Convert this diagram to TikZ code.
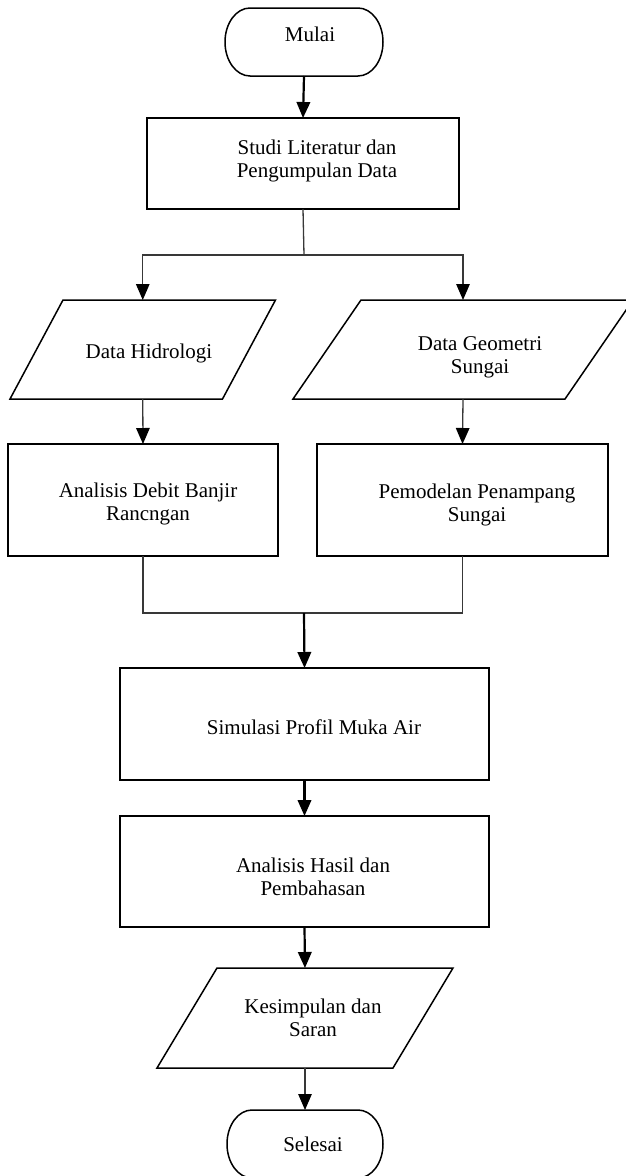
\documentclass[tikz,border=0pt]{standalone}
\usepackage{fontspec}
\setmainfont{Liberation Serif}
\usetikzlibrary{arrows.meta,calc}
\begin{document}
\begin{tikzpicture}[x=1pt,y=-1pt,
  shapeline/.style={draw=black,line width=1.5pt,line join=miter},
  ghost/.style={rectangle,inner sep=0pt,outer sep=0pt,draw=none},
  boxnode/.style={rectangle,inner sep=0pt,outer sep=0pt,draw=black,line width=1.5pt},
  txt/.style={font=\fontsize{21}{23}\selectfont,align=center,inner sep=0pt},
  conn/.style={draw=black!78,line width=1.3pt},
  connthick/.style={draw=black,line width=2.2pt},
  tip/.style={-{Triangle[length=16pt,width=13.5pt,black]}}]
\useasboundingbox (0,0) rectangle (626,1176);

% terminators
\node[ghost,minimum width=158pt,minimum height=68pt,
  label={[txt,xshift=6pt,yshift=8pt]center:Mulai}] (mulai) at (304,42) {};
\draw[shapeline] ([xshift=25pt]mulai.north west) -- ([xshift=-25pt]mulai.north east)
  arc[start angle=-90,end angle=90,x radius=25,y radius=34]
  -- ([xshift=25pt]mulai.south west)
  arc[start angle=90,end angle=270,x radius=25,y radius=34] -- cycle;

\node[ghost,minimum width=156pt,minimum height=68pt,
  label={[txt,xshift=8pt]center:Selesai}] (selesai) at (305,1144) {};
\draw[shapeline] ([xshift=25pt]selesai.north west) -- ([xshift=-25pt]selesai.north east)
  arc[start angle=-90,end angle=90,x radius=25,y radius=34]
  -- ([xshift=25pt]selesai.south west)
  arc[start angle=90,end angle=270,x radius=25,y radius=34] -- cycle;

% process boxes
\node[boxnode,minimum width=312pt,minimum height=91pt,
  label={[txt,xshift=14pt,yshift=2.8pt]center:Studi Literatur dan\\Pengumpulan Data}] (studi) at (303,163.5) {};
\node[boxnode,minimum width=270pt,minimum height=112pt,
  label={[txt,xshift=5pt,yshift=-4.2pt]center:Analisis Debit Banjir\\Rancngan}] (debit) at (143,500) {};
\node[boxnode,minimum width=291pt,minimum height=112pt,
  label={[txt,xshift=14.5pt,yshift=-4.7pt]center:Pemodelan Penampang\\Sungai}] (pemod) at (462.5,500) {};
\node[boxnode,minimum width=369pt,minimum height=112pt,
  label={[txt,xshift=9.5pt,yshift=-2.9pt]center:Simulasi Profil Muka Air}] (simul) at (304.5,724) {};
\node[boxnode,minimum width=369pt,minimum height=111pt,
  label={[txt,xshift=8.5pt,yshift=-4.9pt]center:Analisis Hasil dan\\Pembahasan}] (hasil) at (304.5,871.5) {};

% data (parallelograms)
\node[ghost,minimum width=212.5pt,minimum height=99pt,
  label={[txt,xshift=6.25pt,yshift=-3.7pt]center:Data Hidrologi}] (hidro) at (142.75,349.5) {};
\draw[shapeline] ([xshift=26.5pt]hidro.north west) -- ([xshift=26.5pt]hidro.north east)
  -- ([xshift=-26.5pt]hidro.south east) -- ([xshift=-26.5pt]hidro.south west) -- cycle;

\node[ghost,minimum width=272pt,minimum height=99pt,
  label={[txt,xshift=17pt,yshift=-8.2pt]center:Data Geometri\\Sungai}] (geo) at (463,349.5) {};
\draw[shapeline] ([xshift=34pt]geo.north west) -- ([xshift=34pt]geo.north east)
  -- ([xshift=-34pt]geo.south east) -- ([xshift=-34pt]geo.south west) -- cycle;

\node[ghost,minimum width=236pt,minimum height=100pt,
  label={[txt,xshift=8pt]center:Kesimpulan dan\\Saran}] (kesim) at (305,1018) {};
\draw[shapeline] ([xshift=30pt]kesim.north west) -- ([xshift=30pt]kesim.north east)
  -- ([xshift=-30pt]kesim.south east) -- ([xshift=-30pt]kesim.south west) -- cycle;

% connectors
\coordinate (split) at (304,255);
\coordinate (join) at (304,613);

\draw[connthick,tip] (mulai.south) -- (studi.north);
\draw[conn] (studi.south) -- (split);
\draw[conn,tip] (split) -| (hidro.north);
\draw[conn,tip] (split) -| (geo.north);
\draw[conn,tip] (hidro.south) -- (debit.north);
\draw[conn,tip] (geo.south) -- (pemod.north);
\draw[conn] (debit.south) |- (join) -| (pemod.south);
\draw[connthick,tip] (join) -- (simul.north);
\draw[connthick,tip] (simul.south) -- (hasil.north);
\draw[connthick,tip] (hasil.south) -- (kesim.north);
\draw[conn,tip] (kesim.south) -- (selesai.north);
\end{tikzpicture}
\end{document}
